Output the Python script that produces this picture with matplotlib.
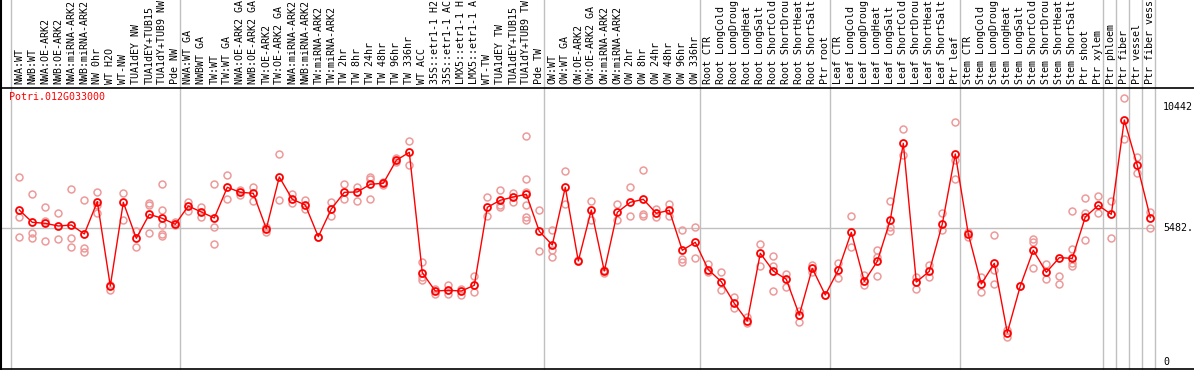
import matplotlib
matplotlib.use('Agg')
import matplotlib.pyplot as plt
import numpy as np

gene = 'Potri.012G033000'

labels = [
    'NWA:WT', 'NWB:WT', 'NWA:OE-ARK2', 'NWB:OE-ARK2', 'NWA:miRNA-ARK2', 'NWB:miRNA-ARK2',
    'NW 0hr', 'WT H2O', 'WT-NW', 'TUA1dEY NW', 'TUA1dEY+TUB15', 'TUA1dY+TUB9 NW', 'Pde NW',
    'NWA:WT GA', 'NWBWT GA', 'TW:WT', 'TW:WT GA', 'NWA:OE-ARK2 GA', 'NWB:OE-ARK2 GA',
    'TW:OE-ARK2', 'TW:OE-ARK2 GA', 'NWA:miRNA-ARK2', 'NWB:miRNA-ARK2', 'TW:miRNA-ARK2',
    'TW:miRNA-ARK2', 'TW 2hr', 'TW 8hr', 'TW 24hr', 'TW 48hr', 'TW 96hr', 'TW 336hr',
    'WT ACC', '35S::etr1-1 H2', '35S::etr1-1 AC', 'LMX5::etr1-1 H', 'LMX5::etr1-1 A',
    'WT-TW', 'TUA1dEY TW', 'TUA1dEY+TUB15', 'TUA1dY+TUB9 TW', 'Pde TW',
    'OW:WT', 'OW:WT GA', 'OW:OE-ARK2', 'OW:OE-ARK2 GA', 'OW:miRNA-ARK2', 'OW:miRNA-ARK2',
    'OW 2hr', 'OW 8hr', 'OW 24hr', 'OW 48hr', 'OW 96hr', 'OW 336hr',
    'Root CTR', 'Root LongCold', 'Root LongDroug', 'Root LongHeat', 'Root LongSalt',
    'Root ShortCold', 'Root ShortDrou', 'Root ShortHeat', 'Root ShortSalt', 'Ptr root',
    'Leaf CTR', 'Leaf LongCold', 'Leaf LongDroug', 'Leaf LongHeat', 'Leaf LongSalt',
    'Leaf ShortCold', 'Leaf ShortDrou', 'Leaf ShortHeat', 'Leaf ShortSalt', 'Ptr leaf',
    'Stem CTR', 'Stem LongCold', 'Stem LongDroug', 'Stem LongHeat', 'Stem LongSalt',
    'Stem ShortCold', 'Stem ShortDrou', 'Stem ShortHeat', 'Stem ShortSalt', 'Ptr shoot',
    'Ptr xylem', 'Ptr phloem', 'Ptr fiber', 'Ptr vessel', 'Ptr fiber vess',
]

group_sizes = [13, 28, 12, 10, 10, 11, 1, 1, 1, 1]

means = [
    6224, 5720, 5679, 5569, 5610, 5242, 6565, 3112, 6540, 5065, 6047, 5884, 5638,
    6388, 6143, 5897, 7153, 6949, 6908, 5460, 7576, 6662, 6429, 5131, 6265, 6949,
    6962, 7277, 7318, 8260, 8587, 3657, 2907, 2936, 2907, 3141, 6335, 6622, 6757,
    6867, 5352,
    4791, 7154, 4136, 6224, 3726, 6129, 6540, 6662, 6089, 6212, 4574, 4902,
    3781, 3289, 2402, 1679, 4451, 3726, 3385, 1925, 3835, 2744,
    3767, 5310, 3303, 4122, 5815, 8955, 3276, 3713, 5651, 8518,
    5242, 3194, 4040, 1201, 3112, 4574, 3672, 4272, 4245, 5938, 6415,
    6047, 9910, 8055, 5911,
]

replicates = [
    [7563, 5925, 5106], [6867, 5270, 5066], [6347, 5786, 4955], [6089, 5037],
    [7084, 5066, 4697], [6634, 4656, 4492], [6974, 6429, 6089], [3153, 2948],
    [6908, 5815], [5377, 4722], [6499, 6429, 5270], [7289, 6224, 5610, 5242, 5172],
    [5745, 5610],
    [6564, 6196], [6360, 5925], [7289, 5516, 4832], [7658, 6675], [7043, 6839],
    [7154, 6605], [5541, 5336], [8518, 6634], [6880, 6499], [6634, 6253], [5106],
    [6540, 5979], [7277, 6663], [7179, 6605], [7588, 7482, 6663], [7383, 7248],
    [8342, 8202], [9062, 8067], [4107, 3468, 3358], [2977, 2785], [3153, 2785],
    [3002, 2744], [3522, 2854], [6769, 5979], [7043, 6429, 6360], [6933, 6540],
    [9242, 7482, 6974, 6429, 5950, 5815], [6212, 4533],
    [5405, 4586, 4287], [7821, 6458], [4177], [6605, 5815], [3767, 3657],
    [6458, 5815], [7154, 5979], [7862, 6061, 5979], [6265, 5925], [6458, 5979],
    [5405, 4206, 4107], [5516, 4247],
    [4001, 3698], [3673, 2948], [2674, 2199], [1855, 1585], [4832, 3943],
    [4341, 3943, 2907], [3591, 3084], [2088, 1650], [3972, 3698], [2744],
    [4066, 3428], [5991, 4697], [3563, 3153], [4586, 4312, 3522], [6593, 5541, 5377],
    [9529, 8477], [3468, 2977], [3972, 3493], [6089, 5405], [9816, 8272, 7482],
    [5336, 5106], [3468, 2879], [5188, 3767, 3194], [1310, 1036], [3112],
    [5037, 4926, 3837], [4001, 3387], [3522, 3182], [6183, 4615, 4042, 3943],
    [6704, 6114, 4984], [6810, 6089],
    [6593, 5066], [10799, 9132], [8382, 7727], [6155, 5475],
]

y_max_label = 10442
y_mid_label = 5482

MONO = 'DejaVu Sans Mono'
GRID = '#c0c0c0'
RED = '#ff0000'
PINK = '#ee9a9a'


def main() -> None:
    W, H = 1194, 370
    fig = plt.figure(figsize=(W / 100, H / 100), dpi=100)
    top_px, bot_px, left_px = 88, 369, 1
    ax = fig.add_axes([left_px / W, 1 - bot_px / H, 1 - left_px / W, (bot_px - top_px) / H])

    # pixel mapping: column centre x = 19.3 + 13*i, value 0 at y=362, 10442 at y=107
    px_per_col = 13.0
    x0_px = 19.3
    ax.set_xlim((left_px - x0_px) / px_per_col, (W - x0_px) / px_per_col)
    unit = y_max_label / (362 - 107)
    ax.set_ylim((362 - bot_px) * unit, (362 - top_px) * unit)

    for side in ('right',):
        ax.spines[side].set_visible(False)
    for side in ('left', 'top', 'bottom'):
        ax.spines[side].set_color('black')
        ax.spines[side].set_linewidth(1.2)
    ax.set_xticks([])
    ax.set_yticks([])

    head = 1 + (top_px - 0) / (bot_px - top_px)
    bounds = np.concatenate([[0], np.cumsum(group_sizes)]) - 0.654
    for b in bounds:
        ax.axvline(b, 0, head, color=GRID, lw=1, clip_on=False, zorder=1)
    ax.axvline(ax.get_xlim()[0], 0, head, color='black', lw=1.5, clip_on=False, zorder=5)
    ax.hlines(y_mid_label, ax.get_xlim()[0], bounds[-1], color=GRID, lw=1, zorder=1)

    xs = np.arange(len(means))
    for i, reps in enumerate(replicates):
        ax.plot([xs[i]] * len(reps), reps, 'o', ms=5, mfc='none', mec=PINK, mew=1.1,
                zorder=2, clip_on=False)
    ax.plot(xs, means, '-', color=RED, lw=1, zorder=3)
    ax.plot(xs, means, 'o', ms=5, mfc='none', mec=RED, mew=1.3, zorder=4)

    label_y = 1 + 4 / (bot_px - top_px)
    for i, lab in enumerate(labels):
        ax.text(xs[i], label_y, lab, rotation=90, ha='center', va='bottom',
                fontsize=7.2, family=MONO, transform=ax.get_xaxis_transform(),
                clip_on=False)

    x_lab = (1163 - x0_px) / px_per_col
    ax.text(x_lab, y_max_label, str(y_max_label), ha='left', va='center',
            fontsize=7.2, family=MONO)
    ax.text(x_lab, y_mid_label, f'{y_mid_label}.', ha='left', va='center',
            fontsize=7.2, family=MONO)
    ax.text(x_lab, 0, '0', ha='left', va='center', fontsize=7.2, family=MONO)

    ax.text((9 - x0_px) / px_per_col, (362 - 97) * unit, gene, ha='left', va='center',
            fontsize=7.2, family=MONO, color=RED)

    fig.savefig('out.png', dpi=100)


if __name__ == '__main__':
    main()
